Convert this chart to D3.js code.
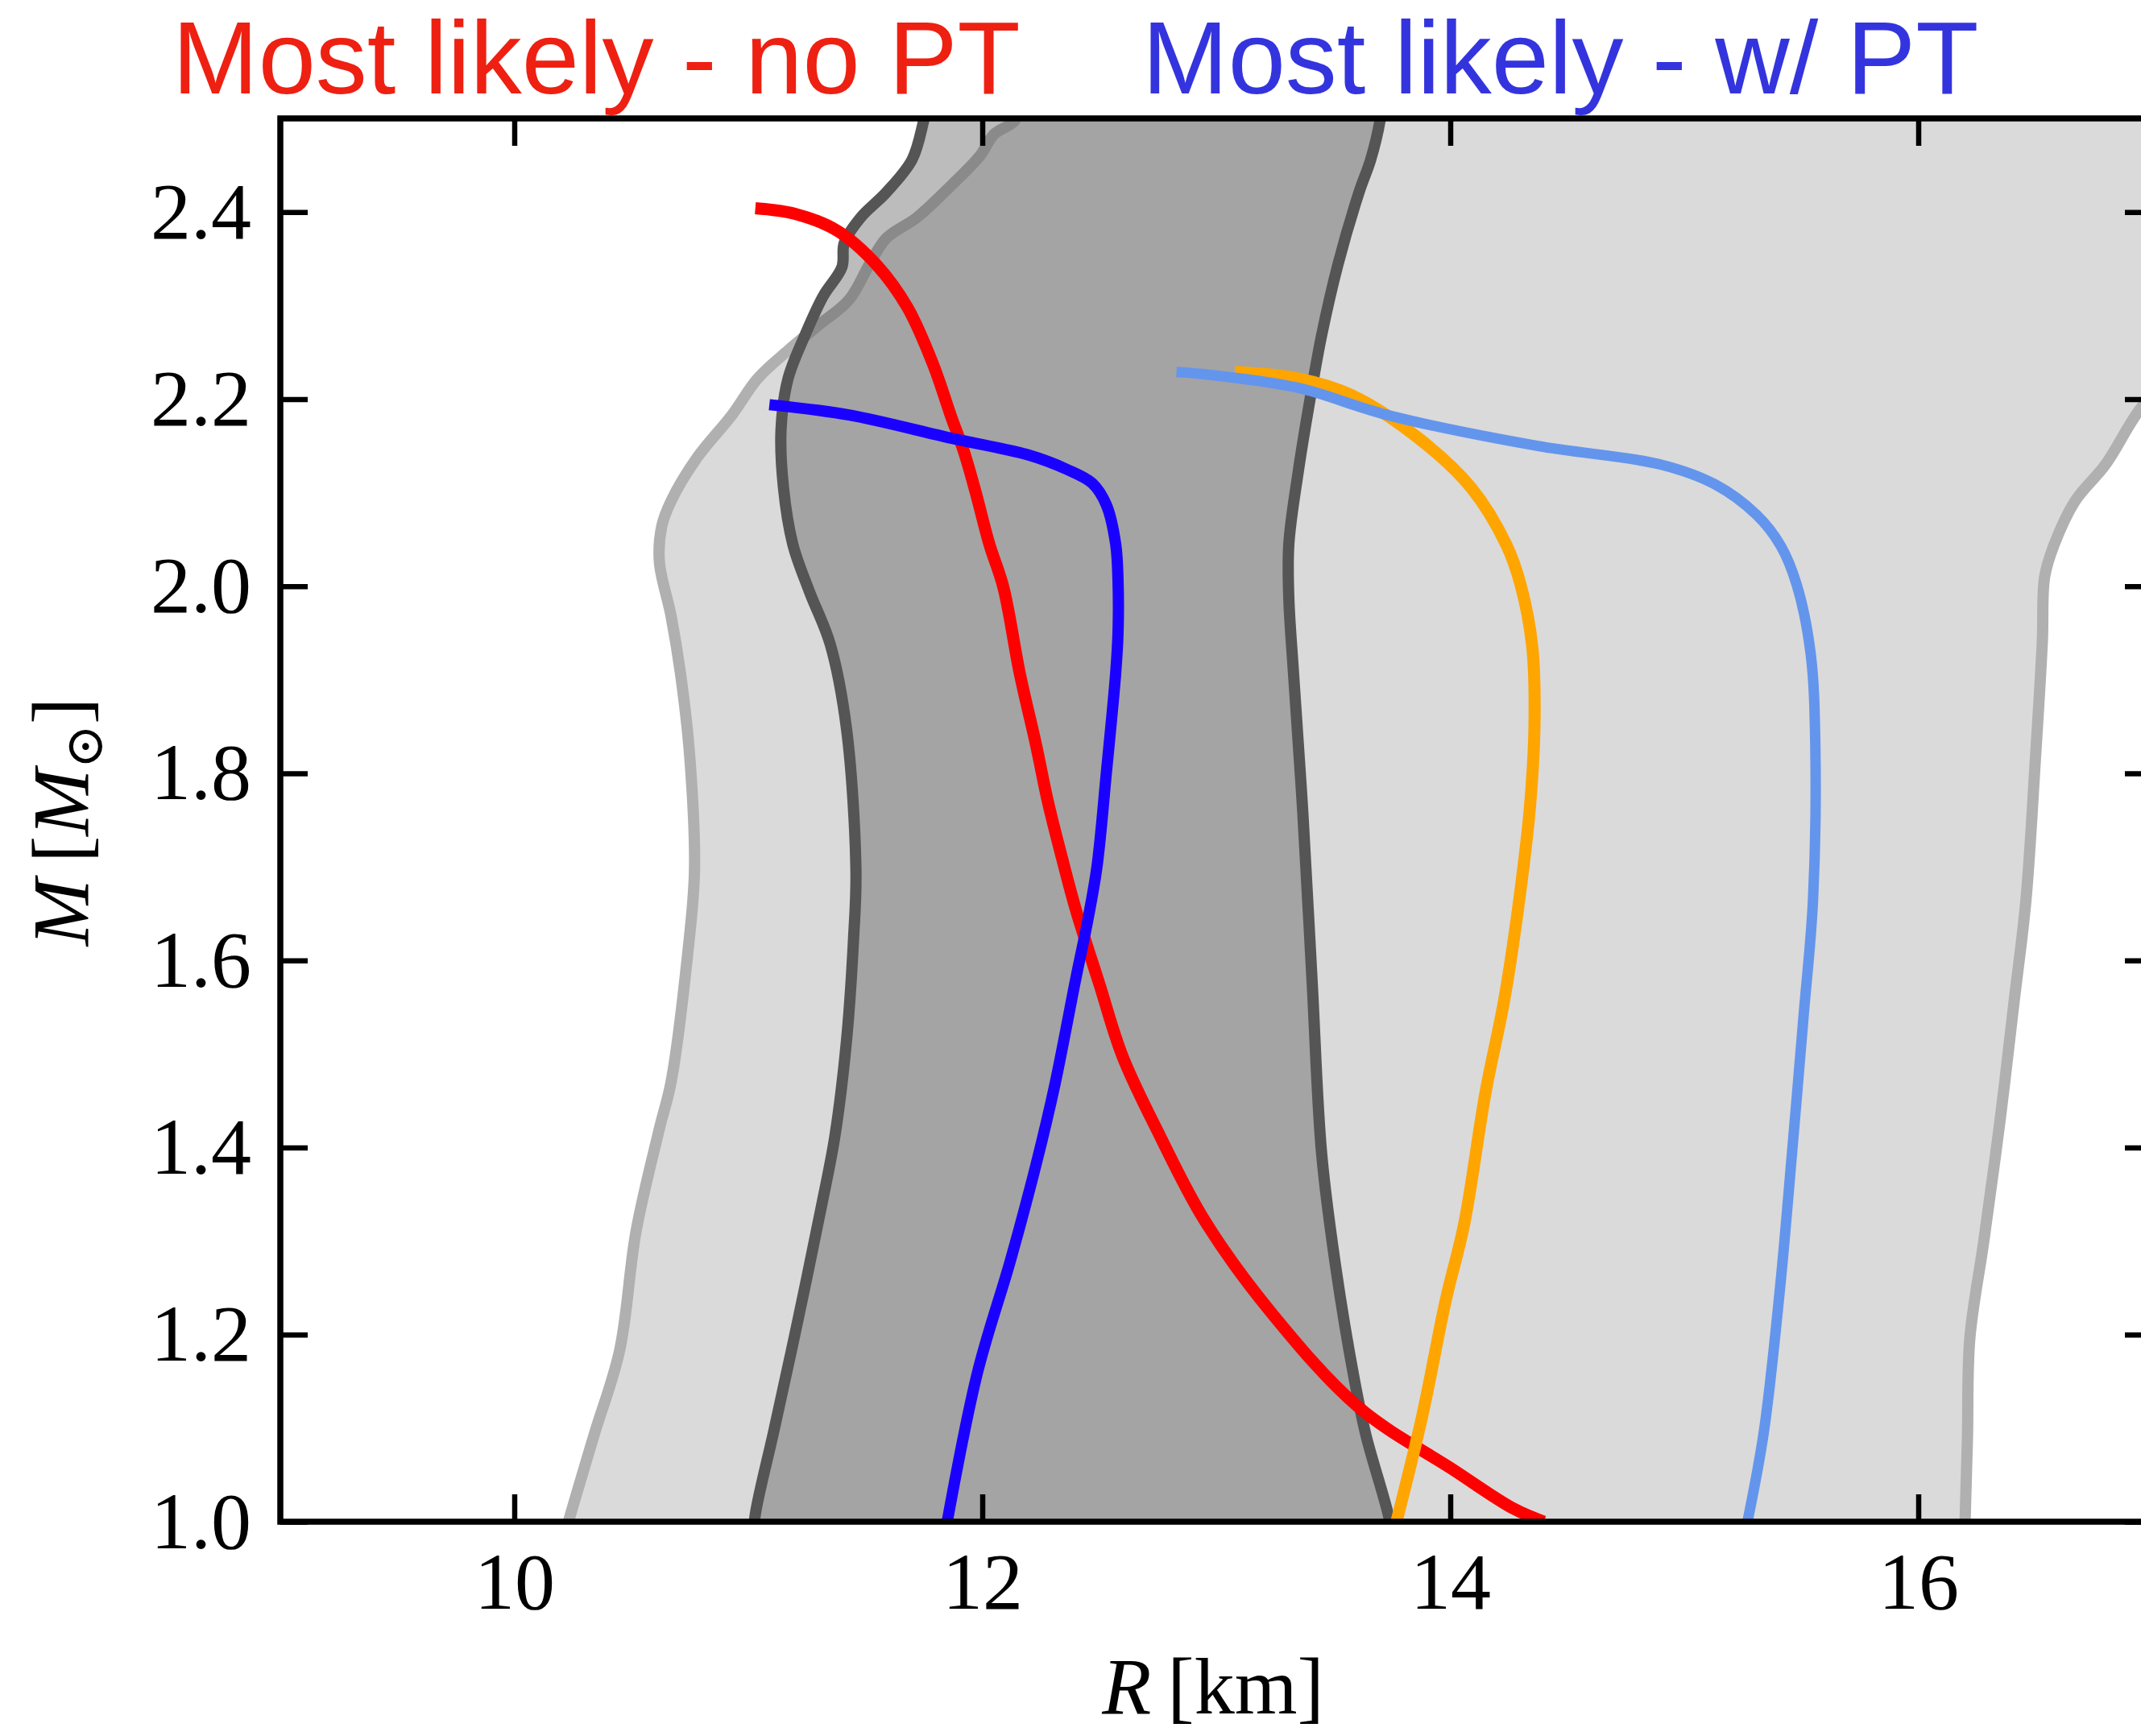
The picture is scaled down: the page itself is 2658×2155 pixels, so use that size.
<!DOCTYPE html>
<html>
<head>
<meta charset="utf-8">
<script src="https://cdn.jsdelivr.net/npm/d3@7"></script>
<style>
  html, body { margin: 0; padding: 0; background: #ffffff; }
  svg { display: block; }
</style>
</head>
<body>
<svg id="chart" width="2658" height="2155"></svg>
<script>
// ---------- data: [R (km), M (Msun)] ----------
const redNoPT = [[11.03,2.404],[11.20,2.398],[11.38,2.380],[11.55,2.343],[11.68,2.298],[11.79,2.237],[11.87,2.179],[11.92,2.145],[11.97,2.102],[12.03,2.045],[12.09,1.999],[12.16,1.907],[12.23,1.83],[12.28,1.77],[12.34,1.71],[12.40,1.654],[12.50,1.575],[12.60,1.497],[12.76,1.412],[12.95,1.322],[13.23,1.225],[13.61,1.122],[14.01,1.056],[14.27,1.014],[14.40,1.0]];
const blueWithPT = [[11.09,2.194],[11.43,2.183],[11.87,2.158],[12.20,2.140],[12.36,2.125],[12.47,2.110],[12.53,2.087],[12.57,2.045],[12.58,2.006],[12.58,1.950],[12.57,1.907],[12.53,1.800],[12.49,1.700],[12.45,1.642],[12.40,1.581],[12.31,1.467],[12.23,1.382],[12.12,1.279],[11.98,1.160],[11.85,1.0]];
const orangeNoPT = [[13.08,2.229],[13.35,2.222],[13.58,2.204],[13.86,2.159],[14.09,2.105],[14.24,2.044],[14.30,2.002],[14.35,1.936],[14.36,1.854],[14.34,1.763],[14.29,1.656],[14.23,1.557],[14.15,1.458],[14.06,1.319],[13.98,1.236],[13.88,1.113],[13.77,1.0]];
const lightBlueWithPT = [[12.83,2.229],[12.97,2.226],[13.35,2.212],[13.73,2.183],[14.37,2.150],[14.90,2.130],[15.13,2.109],[15.31,2.076],[15.41,2.044],[15.48,2.002],[15.54,1.928],[15.56,1.829],[15.55,1.664],[15.51,1.541],[15.46,1.393],[15.41,1.252],[15.34,1.096],[15.27,1.0]];

const innerLeft = [[11.77,2.52],[11.75,2.498],[11.70,2.456],[11.59,2.421],[11.48,2.394],[11.41,2.367],[11.40,2.341],[11.32,2.310],[11.24,2.267],[11.17,2.222],[11.14,2.168],[11.15,2.106],[11.19,2.045],[11.26,1.995],[11.35,1.938],[11.42,1.847],[11.46,1.696],[11.45,1.624],[11.42,1.515],[11.37,1.412],[11.31,1.334],[11.21,1.213],[11.11,1.098],[11.03,1.008],[11.02,0.98]];
const innerRight = [[13.71,2.52],[13.70,2.498],[13.66,2.456],[13.61,2.421],[13.52,2.344],[13.45,2.268],[13.40,2.199],[13.35,2.122],[13.31,2.045],[13.31,1.987],[13.33,1.907],[13.37,1.757],[13.41,1.575],[13.45,1.394],[13.51,1.273],[13.59,1.152],[13.64,1.092],[13.74,1.002],[13.75,0.98]];
const outerLeft = [[12.16,2.52],[12.14,2.498],[12.05,2.483],[11.99,2.460],[11.87,2.429],[11.72,2.394],[11.59,2.372],[11.52,2.345],[11.43,2.306],[11.30,2.279],[11.17,2.252],[11.04,2.222],[10.93,2.183],[10.78,2.137],[10.67,2.091],[10.63,2.064],[10.62,2.026],[10.67,1.968],[10.71,1.907],[10.75,1.817],[10.77,1.696],[10.74,1.605],[10.67,1.470],[10.62,1.420],[10.52,1.310],[10.45,1.183],[10.34,1.092],[10.22,0.99],[10.21,0.98]];
const outerRight = [[17.8,2.52],[17.2,2.26],[16.95,2.19],[16.80,2.13],[16.67,2.091],[16.58,2.044],[16.54,2.010],[16.53,1.940],[16.50,1.813],[16.46,1.664],[16.41,1.557],[16.35,1.430],[16.28,1.300],[16.22,1.195],[16.21,1.088],[16.20,1.0],[16.20,0.98]];

const xTicks = [10, 12, 14, 16];
const yTicks = [1.0, 1.2, 1.4, 1.6, 1.8, 2.0, 2.2, 2.4];
const xDomain = [9, 17];
const yDomain = [1.0, 2.5];
const titleNoPT = "Most likely - no PT";
const titleWithPT = "Most likely - w/ PT";

// ---------- layout ----------
const svg = d3.select("#chart");
const L = 348, R = 2672, T = 147, B = 1889;
const x = d3.scaleLinear().domain(xDomain).range([L, R]);
const y = d3.scaleLinear().domain(yDomain).range([B, T]);

svg.append("defs").append("clipPath").attr("id", "plotclip")
  .append("rect").attr("x", L).attr("y", T).attr("width", R - L).attr("height", B - T);

const plot = svg.append("g").attr("clip-path", "url(#plotclip)");
const line = d3.line().x(d => x(d[0])).y(d => y(d[1])).curve(d3.curveCatmullRom.alpha(0.5));

function band(left, right) {
  return line(left.concat(right.slice().reverse())) + "Z";
}

// outer band
plot.append("path").attr("d", band(outerLeft, outerRight))
  .attr("fill", "#dadada").attr("stroke", "none");
[outerLeft, outerRight].forEach(b => plot.append("path").attr("d", line(b))
  .attr("fill", "none").attr("stroke", "#b0b0b0").attr("stroke-width", 14)
  .attr("stroke-linejoin", "round"));

// inner band
plot.append("path").attr("d", band(innerLeft, innerRight))
  .attr("fill", "rgb(72,72,72)").attr("fill-opacity", 0.37).attr("stroke", "none");
[innerLeft, innerRight].forEach(b => plot.append("path").attr("d", line(b))
  .attr("fill", "none").attr("stroke", "#555555").attr("stroke-width", 14)
  .attr("stroke-linejoin", "round"));

// curves
const curves = [
  {data: redNoPT, color: "#ff0000", w: 15},
  {data: blueWithPT, color: "#1a00ff", w: 14},
  {data: orangeNoPT, color: "#ffa500", w: 15},
  {data: lightBlueWithPT, color: "#6495ed", w: 13}
];
curves.forEach(c => plot.append("path").attr("d", line(c.data))
  .attr("fill", "none").attr("stroke", c.color).attr("stroke-width", c.w)
  .attr("stroke-linejoin", "round").attr("stroke-linecap", "butt"));

// ---------- axes ----------
const serif = "'Liberation Serif', 'DejaVu Serif', serif";
const tickLen = 34;

const gx = svg.append("g").attr("transform", `translate(0,${B})`)
  .call(d3.axisBottom(x).tickValues(xTicks).tickFormat(d3.format("d"))
    .tickSizeInner(-tickLen).tickSizeOuter(0).tickPadding(37));
const gxt = svg.append("g").attr("transform", `translate(0,${T})`)
  .call(d3.axisTop(x).tickValues(xTicks).tickFormat("")
    .tickSizeInner(-tickLen).tickSizeOuter(0));
const gy = svg.append("g").attr("transform", `translate(${L},0)`)
  .call(d3.axisLeft(y).tickValues(yTicks).tickFormat(d3.format(".1f"))
    .tickSizeInner(-tickLen).tickSizeOuter(0).tickPadding(36));
const gyr = svg.append("g").attr("transform", `translate(${R},0)`)
  .call(d3.axisRight(y).tickValues(yTicks).tickFormat("")
    .tickSizeInner(-tickLen).tickSizeOuter(0));

[gx, gxt, gy, gyr].forEach(g => {
  g.select(".domain").remove();
  g.selectAll(".tick line").attr("stroke", "#000").attr("stroke-width", 6.5);
  g.selectAll(".tick text").attr("font-family", serif).attr("font-size", 100)
    .attr("fill", "#000");
});

// spines
svg.append("rect").attr("x", L).attr("y", T).attr("width", R - L).attr("height", B - T)
  .attr("fill", "none").attr("stroke", "#000").attr("stroke-width", 7.5);

// axis titles
const xt = svg.append("text").attr("x", (L + R) / 2 - 4).attr("y", 2127)
  .attr("text-anchor", "middle").attr("font-family", serif).attr("font-size", 100).attr("fill", "#000");
xt.append("tspan").attr("font-style", "italic").text("R");
xt.append("tspan").text("\u2009[km]");

const yt = svg.append("text").attr("transform", "translate(109,1020) rotate(-90)")
  .attr("text-anchor", "middle").attr("font-family", serif).attr("font-size", 100).attr("fill", "#000");
yt.append("tspan").attr("font-style", "italic").text("M");
yt.append("tspan").text("\u2009[");
yt.append("tspan").attr("font-style", "italic").text("M");
yt.append("tspan").attr("font-size", 66).attr("dy", 18).text("\u2299");
yt.append("tspan").attr("dy", -18).text("]");

// titles
const sans = "'Liberation Sans', Arial, Helvetica, sans-serif";
svg.append("text").attr("x", 214).attr("y", 116).attr("font-family", sans)
  .attr("font-size", 128).attr("fill", "rgb(238,32,18)").text(titleNoPT);
svg.append("text").attr("x", 1418).attr("y", 116).attr("font-family", sans)
  .attr("font-size", 128).attr("fill", "rgb(52,52,222)").text(titleWithPT);
</script>
</body>
</html>
